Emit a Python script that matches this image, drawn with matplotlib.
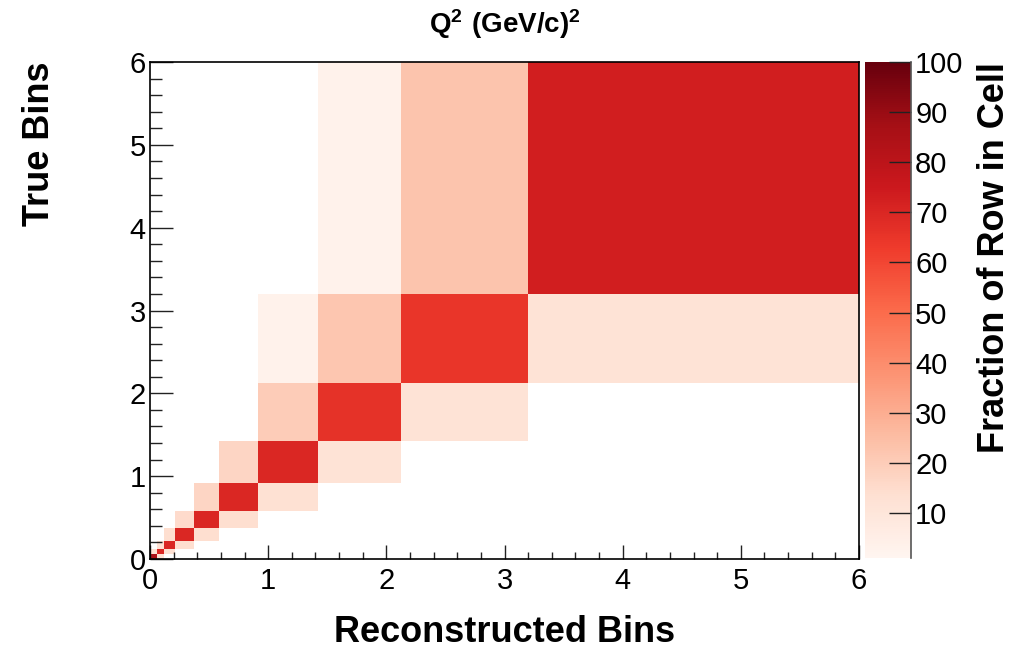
import numpy as np
import matplotlib
matplotlib.use("Agg")
import matplotlib.pyplot as plt
from matplotlib.ticker import MultipleLocator

plt.rcParams['font.family'] = ['Liberation Sans', 'DejaVu Sans']
plt.rcParams['mathtext.fontset'] = 'custom'
plt.rcParams['mathtext.bf'] = 'Liberation Sans:bold'
plt.rcParams['mathtext.rm'] = 'Liberation Sans'

# bin edges (same for true and reconstructed)
bin_edges = [0, 0.057, 0.115, 0.215, 0.37, 0.585, 0.915, 1.425, 2.125, 3.2, 6.0]

# row-normalised migration percentages: rows = true bin, cols = reconstructed bin
row0 = [85, 13, 0, 0, 0, 0, 0, 0, 0, 0]
row1 = [13, 70, 13, 0, 0, 0, 0, 0, 0, 0]
row2 = [0, 13, 70, 14, 0, 0, 0, 0, 0, 0]
row3 = [0, 0, 14, 70, 14, 0, 0, 0, 0, 0]
row4 = [0, 0, 0, 15, 70, 14, 0, 0, 0, 0]
row5 = [0, 0, 0, 0, 17, 70, 13, 0, 0, 0]
row6 = [0, 0, 0, 0, 0, 17, 70, 12, 0, 0]
row7 = [0, 0, 0, 0, 0, 0, 20, 66, 12, 0]
row8 = [0, 0, 0, 0, 0, 0, 3, 22, 65, 12]
row9 = [0, 0, 0, 0, 0, 0, 0, 3, 23, 73]

cbar_ticks = [10, 20, 30, 40, 50, 60, 70, 80, 90, 100]

title = r'$\mathbf{Q^{2}\ (GeV/c)^{2}}$'
xlabel = 'Reconstructed Bins'
ylabel = 'True Bins'
zlabel = 'Fraction of Row in Cell'

values = np.array([row0, row1, row2, row3, row4, row5, row6, row7, row8, row9], dtype=float)
Z = np.ma.masked_where(values <= 0, values)

W, H = 1025, 648
fig = plt.figure(figsize=(W / 100, H / 100), dpi=100)
ax = fig.add_axes([150 / W, 1 - 559 / H, 709 / W, 497 / H])
cax = fig.add_axes([865 / W, 1 - 558 / H, 46 / W, 496 / H])

mesh = ax.pcolormesh(bin_edges, bin_edges, Z, cmap='Reds', vmin=1, vmax=100,
                     edgecolors='none', antialiased=False)
ax.set_xlim(0, 6)
ax.set_ylim(0, 6)

ax.xaxis.set_major_locator(MultipleLocator(1))
ax.xaxis.set_minor_locator(MultipleLocator(0.2))
ax.yaxis.set_major_locator(MultipleLocator(1))
ax.yaxis.set_minor_locator(MultipleLocator(0.2))
ax.tick_params(axis='both', which='both', direction='in', top=False, right=False,
               labelsize=21, colors='#222222', labelcolor='black', width=1)
ax.tick_params(axis='x', which='major', length=10, pad=6)
ax.tick_params(axis='x', which='minor', length=5)
ax.tick_params(axis='y', which='major', length=16.5, pad=3)
ax.tick_params(axis='y', which='minor', length=8.5)
for s in ax.spines.values():
    s.set_linewidth(1.2)
    s.set_color('black')

ax.set_xlabel(xlabel, fontsize=26, fontweight='bold', labelpad=14)
ax.set_ylabel(ylabel, fontsize=26, fontweight='bold', loc='top', labelpad=52)

cbar = fig.colorbar(mesh, cax=cax)
cbar.set_ticks(cbar_ticks)
cbar.ax.yaxis.set_ticks_position('right')
cbar.ax.tick_params(direction='in', length=16, width=1, labelsize=21, pad=3, colors='#222222', labelcolor='black')
cbar.ax.minorticks_off()
cbar.outline.set_visible(False)
cax.plot([1, 1], [0, 1], transform=cax.transAxes, color='#555555', lw=1.2, clip_on=False)
cbar.set_label(zlabel, fontsize=26, fontweight='bold', loc='top', labelpad=10)

fig.text(505 / W, 1 - 33 / H, title, ha='center', va='baseline', fontsize=20)

fig.savefig('out.png', dpi=100)
